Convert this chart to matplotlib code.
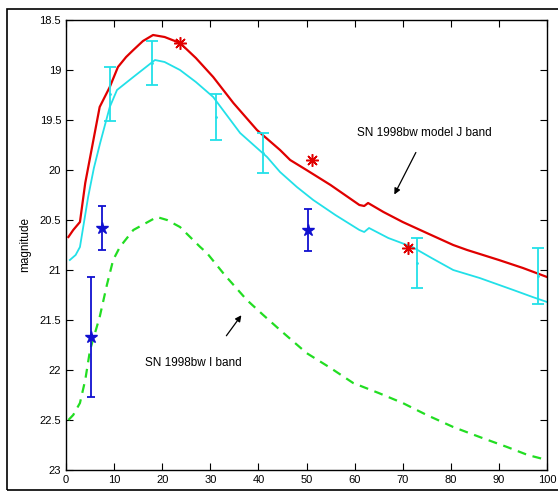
import numpy as np
import matplotlib
matplotlib.use("Agg")
import matplotlib.pyplot as plt
from matplotlib.patches import Rectangle

plt.rcParams['font.family'] = ['Liberation Sans', 'DejaVu Sans']

# model J band (red)
j_model_x = [0.5, 1.5, 2.9, 4.0, 5.5, 7.0, 9.1, 10.8, 12.5, 14.0, 16.0, 18.1, 20.5, 23.7, 27.0, 30.6, 34.8, 39.7, 44.5, 46.6, 50.0, 55.0, 61.0, 62.0, 62.8, 66.0, 70.0, 75.0, 80.5, 83.4, 90.0, 95.0, 100.0]
j_model_y = [20.67, 20.6, 20.52, 20.13, 19.75, 19.37, 19.17, 18.97, 18.87, 18.8, 18.71, 18.65, 18.67, 18.73, 18.88, 19.07, 19.33, 19.6, 19.8, 19.9, 20.0, 20.15, 20.35, 20.36, 20.33, 20.42, 20.52, 20.63, 20.75, 20.8, 20.9, 20.98, 21.07]

# J band fit through data (cyan)
j_fit_x = [0.8, 2.0, 2.9, 4.6, 5.8, 7.1, 9.1, 10.6, 14.0, 18.5, 20.5, 23.7, 27.0, 30.6, 36.2, 41.8, 44.5, 48.0, 51.4, 56.0, 61.0, 62.0, 63.0, 67.0, 72.0, 76.0, 80.5, 86.0, 93.0, 97.0, 100.0]
j_fit_y = [20.9, 20.85, 20.77, 20.27, 19.98, 19.73, 19.37, 19.2, 19.07, 18.9, 18.92, 19.0, 19.12, 19.27, 19.63, 19.87, 20.02, 20.17, 20.3, 20.45, 20.6, 20.62, 20.58, 20.68, 20.77, 20.88, 21.0, 21.08, 21.2, 21.27, 21.32]

# model I band (green dashed)
i_model_x = [0.5, 1.5, 2.9, 4.0, 5.0, 7.0, 8.5, 9.8, 11.2, 14.0, 18.9, 21.0, 23.7, 27.9, 29.3, 33.0, 37.6, 41.0, 44.5, 50.0, 55.0, 59.7, 65.0, 70.0, 75.0, 80.5, 86.0, 91.7, 96.0, 100.0]
i_model_y = [22.5, 22.45, 22.33, 22.1, 21.8, 21.47, 21.15, 20.9, 20.77, 20.6, 20.47, 20.5, 20.57, 20.77, 20.83, 21.05, 21.3, 21.45, 21.6, 21.83, 21.98, 22.13, 22.23, 22.33, 22.45, 22.57, 22.67, 22.77, 22.85, 22.9]

# J band data with errors (cyan bars)
j_obs_x = [9.1, 17.9, 31.2, 41.0, 73.0, 98.2]
j_obs_y = [19.24, 18.93, 19.47, 19.83, 20.93, 21.06]
j_obs_err = [0.27, 0.22, 0.23, 0.2, 0.25, 0.28]

# asterisks (red)
ast_x = [23.7, 51.2, 71.1]
ast_y = [18.73, 19.9, 20.78]

# I band data (blue stars)
i_obs_x = [5.3, 7.4, 50.3]
i_obs_y = [21.67, 20.58, 20.6]
i_obs_err = [0.6, 0.22, 0.21]

xticks = [0, 10, 20, 30, 40, 50, 60, 70, 80, 90, 100]
yticks = [18.5, 19, 19.5, 20, 20.5, 21, 21.5, 22, 22.5, 23]
ylabels = ["18.5", "19", "19.5", "20", "20.5", "21", "21.5", "22", "22.5", "23"]

fig = plt.figure(figsize=(5.58, 4.92), dpi=100)
fig.patches.append(Rectangle((7 / 558, 2 / 492), 560 / 558, 481 / 492, transform=fig.transFigure,
                             fill=False, edgecolor="black", linewidth=1.2))
ax = fig.add_axes([66 / 558, 22 / 492, 481 / 558, 450 / 492])

ax.plot(j_model_x, j_model_y, color="#e00000", linewidth=1.6)
ax.plot(j_fit_x, j_fit_y, color="#22e0e8", linewidth=1.3)
ax.plot(i_model_x, i_model_y, color="#22dd22", linewidth=1.6, linestyle=(0, (4, 3)))

ax.errorbar(j_obs_x, j_obs_y, yerr=j_obs_err, fmt=".", color="#22e0e8", markersize=2,
            elinewidth=1.3, capsize=4, capthick=1.3)
ax.plot(ast_x, ast_y, linestyle="none", marker=(8, 2, 0), color="#e00000", markersize=9, markeredgewidth=1.1)
ax.errorbar(i_obs_x, i_obs_y, yerr=i_obs_err, fmt="*", color="#1010d0", markersize=9,
            elinewidth=1.3, capsize=3, capthick=1.3)

ax.text(60.5, 19.63, "SN 1998bw model J band", fontsize=8.5, va="center", ha="left")
ax.annotate("", xy=(68.0, 20.27), xytext=(73.0, 19.8),
            arrowprops=dict(arrowstyle="-|>", color="black", lw=0.9, mutation_scale=9))
ax.text(16.4, 21.93, "SN 1998bw I band", fontsize=8.5, va="center", ha="left")
ax.annotate("", xy=(36.8, 21.43), xytext=(33.0, 21.68),
            arrowprops=dict(arrowstyle="-|>", color="black", lw=0.9, mutation_scale=9))

ax.set_xlim(0, 100)
ax.set_ylim(23, 18.5)
ax.set_xticks(xticks)
ax.set_yticks(yticks)
ax.set_yticklabels(ylabels)
ax.tick_params(direction="in", top=True, right=True, labelsize=8, length=5, width=0.8)
ax.set_ylabel("magnitude", fontsize=8.5, labelpad=6)
for s in ax.spines.values():
    s.set_linewidth(1.0)

fig.savefig("out.png", dpi=100)
